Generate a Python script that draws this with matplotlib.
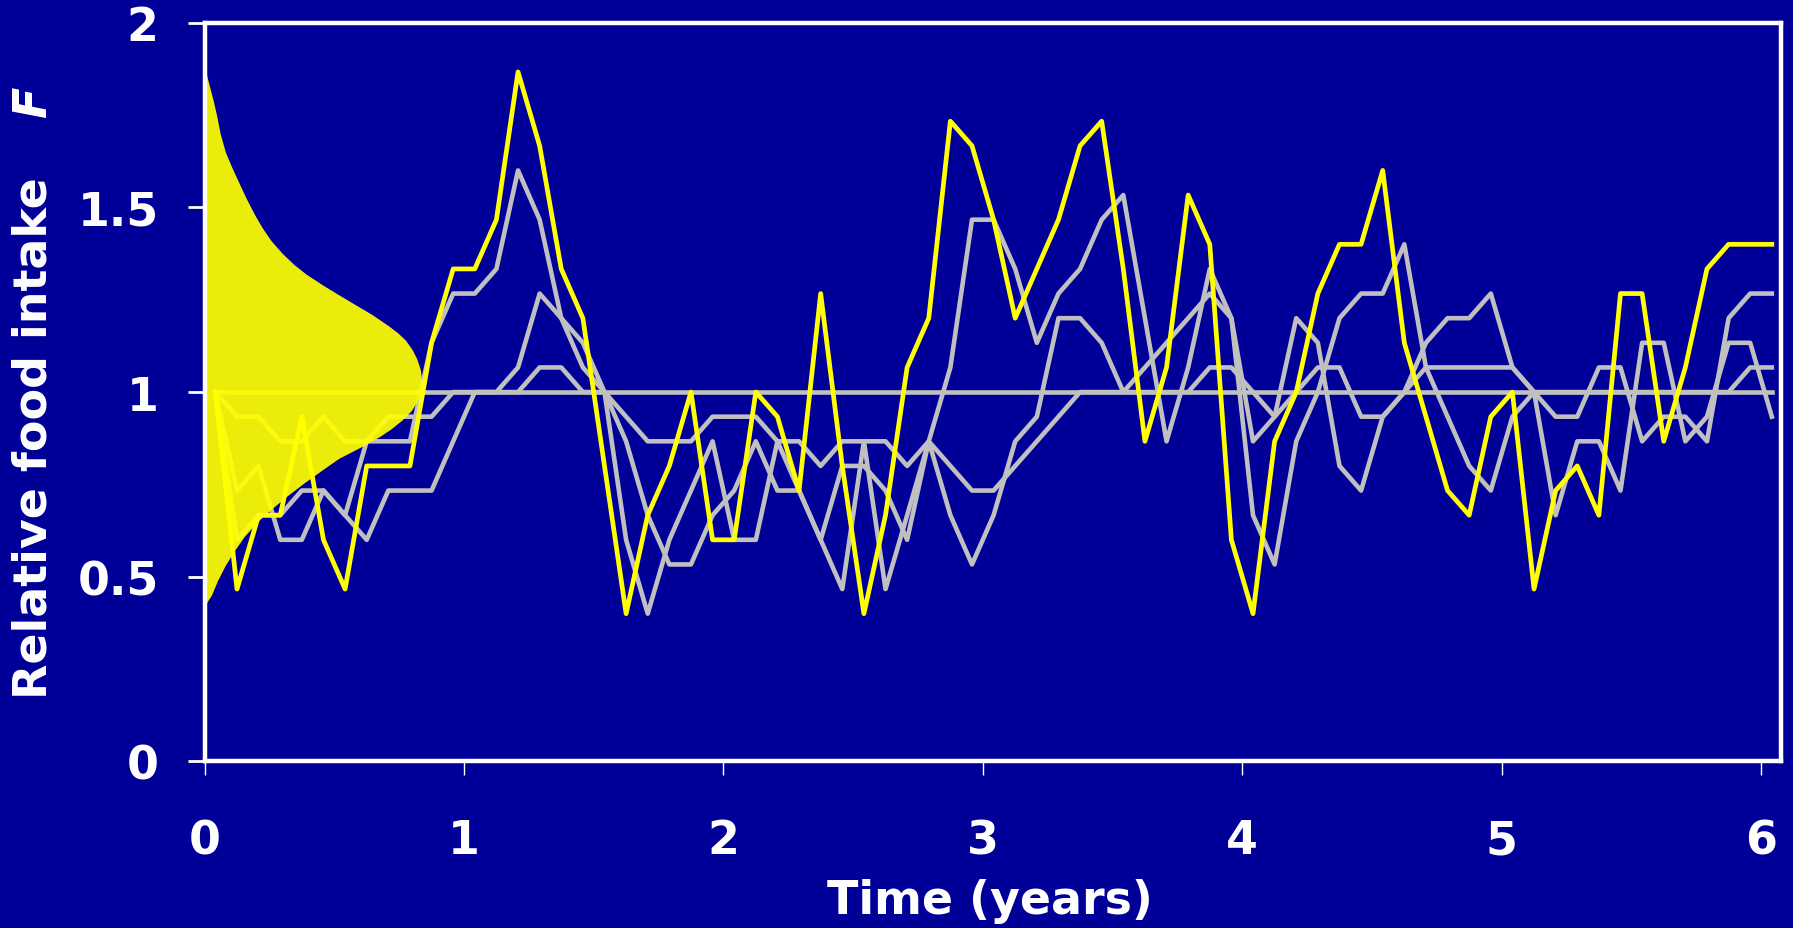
"""
Relative food intake over six years, monthly values
"""
import numpy as np
import matplotlib
matplotlib.use('Agg')
import matplotlib.pyplot as plt

# monthly food intake, counted in steps of 1/15 (15 = intake of 1)
yellow_steps = [15, 7, 10, 10, 14, 9, 7, 12, 12, 12,
                17, 20, 20, 22, 28, 25, 20, 18, 12, 6,
                10, 12, 15, 9, 9, 15, 14, 11, 19, 12,
                6, 10, 16, 18, 26, 25, 22, 18, 20, 22,
                25, 26, 20, 13, 16, 23, 21, 9, 6, 13,
                15, 19, 21, 21, 24, 17, 14, 11, 10, 14,
                15, 7, 11, 12, 10, 19, 19, 13, 16, 20,
                21, 21, 21]
gray_a_steps = [15, 14, 14, 13, 13, 14, 13, 13, 14, 14,
                14, 15, 15, 15, 15, 16, 16, 15, 15, 14,
                13, 13, 13, 14, 14, 14, 13, 13, 12, 13,
                13, 13, 12, 13, 12, 11, 11, 12, 13, 14,
                15, 15, 15, 15, 15, 15, 16, 16, 15, 14,
                15, 16, 16, 14, 14, 15, 16, 16, 16, 16,
                16, 15, 15, 15, 15, 15, 15, 15, 15, 15,
                15, 16, 16]
gray_b_steps = [15, 11, 12, 9, 9, 11, 10, 9, 11, 11,
                11, 13, 15, 15, 16, 19, 18, 17, 15, 13,
                10, 8, 8, 10, 11, 13, 11, 11, 9, 12,
                12, 11, 9, 13, 10, 8, 10, 13, 14, 18,
                18, 17, 15, 16, 17, 18, 19, 18, 13, 14,
                18, 17, 12, 11, 14, 15, 17, 18, 18, 19,
                16, 15, 14, 14, 16, 16, 13, 14, 14, 13,
                18, 19, 19]
gray_c_steps = [15, 9, 10, 10, 11, 11, 10, 13, 13, 13,
                17, 19, 19, 20, 24, 22, 18, 16, 15, 9,
                6, 9, 11, 13, 9, 9, 13, 11, 9, 7,
                13, 7, 10, 13, 16, 22, 22, 20, 17, 19,
                20, 22, 23, 18, 13, 16, 20, 18, 10, 8,
                13, 15, 18, 19, 19, 21, 16, 14, 12, 11,
                14, 15, 10, 13, 13, 11, 17, 17, 13, 14,
                17, 17, 14]
steady_steps = [15] * 73

# outline of the intake distribution at the left edge (F, width in years)
dens_F = [0.42, 0.435, 0.45, 0.49, 0.53, 0.57, 0.61, 0.65, 0.685, 0.72,
          0.755, 0.79, 0.82, 0.855, 0.88, 0.90, 0.925, 0.95, 0.975, 1.00,
          1.03, 1.06, 1.09, 1.115, 1.14, 1.16, 1.18, 1.21, 1.235, 1.26,
          1.29, 1.32, 1.345, 1.375, 1.41, 1.445, 1.48, 1.525, 1.57, 1.61,
          1.65, 1.70, 1.75, 1.79, 1.83, 1.86, 1.875]
dens_w = [0.0, 0.012, 0.026, 0.05, 0.079, 0.114, 0.154, 0.205, 0.26, 0.32,
          0.385, 0.455, 0.516, 0.612, 0.675, 0.718, 0.762, 0.797, 0.82, 0.832,
          0.837, 0.832, 0.818, 0.80, 0.775, 0.745, 0.708, 0.645, 0.585, 0.525,
          0.455, 0.39, 0.345, 0.30, 0.256, 0.222, 0.193, 0.16, 0.13, 0.104,
          0.08, 0.06, 0.046, 0.033, 0.018, 0.007, 0.0]

x_ticks = [0, 1, 2, 3, 4, 5, 6]
y_ticks = [0, 0.5, 1, 1.5, 2]
y_tick_labels = ['0', '0.5', '1', '1.5', '2']

bg = '#000099'
gray = '#C0C0C0'
yellow = '#FFFF00'

fig = plt.figure(figsize=(17.93, 9.29), dpi=100, facecolor=bg)
ax = fig.add_axes([0.1141, 0.1793, 0.8792, 0.7952], facecolor=bg)

t = (np.arange(len(yellow_steps)) + 0.5) / 12

for steps in [steady_steps, gray_a_steps, gray_b_steps, gray_c_steps]:
    ax.plot(t, np.array(steps) / 15, color=gray, lw=3.3, zorder=2)

ax.fill_betweenx(dens_F, 0, dens_w, color=yellow, alpha=0.93, lw=0, zorder=3)
ax.plot(t, np.array(yellow_steps) / 15, color=yellow, lw=3.4, zorder=4)

ax.set_xlim(0, 6.077)
ax.set_ylim(0, 2)
ax.set_xticks(x_ticks)
ax.set_xticklabels([str(x) for x in x_ticks])
ax.set_yticks(y_ticks)
ax.set_yticklabels(y_tick_labels)

for sp in ax.spines.values():
    sp.set_color('white')
    sp.set_linewidth(3.2)
    sp.set_zorder(5)

ax.tick_params(axis='y', length=12, width=2, pad=21, colors='white', labelsize=33)
ax.tick_params(axis='x', length=10, width=1, pad=31, colors='white', labelsize=33)
for lab in ax.get_xticklabels() + ax.get_yticklabels():
    lab.set_fontweight('bold')

fig.text(990 / 1793, 1 - 914 / 929, 'Time (years)', color='white', fontsize=33,
         fontweight='bold', ha='center', va='baseline')
fig.text(34 / 1793, 1 - 438 / 929, 'Relative food intake', color='white', fontsize=33,
         fontweight='bold', rotation=90, ha='center', va='center')
fig.text(34 / 1793, 1 - 102 / 929, 'F', color='white', fontsize=33,
         fontweight='bold', style='italic', rotation=90, ha='center', va='center')

fig.savefig('out.png', dpi=100, facecolor=bg)
